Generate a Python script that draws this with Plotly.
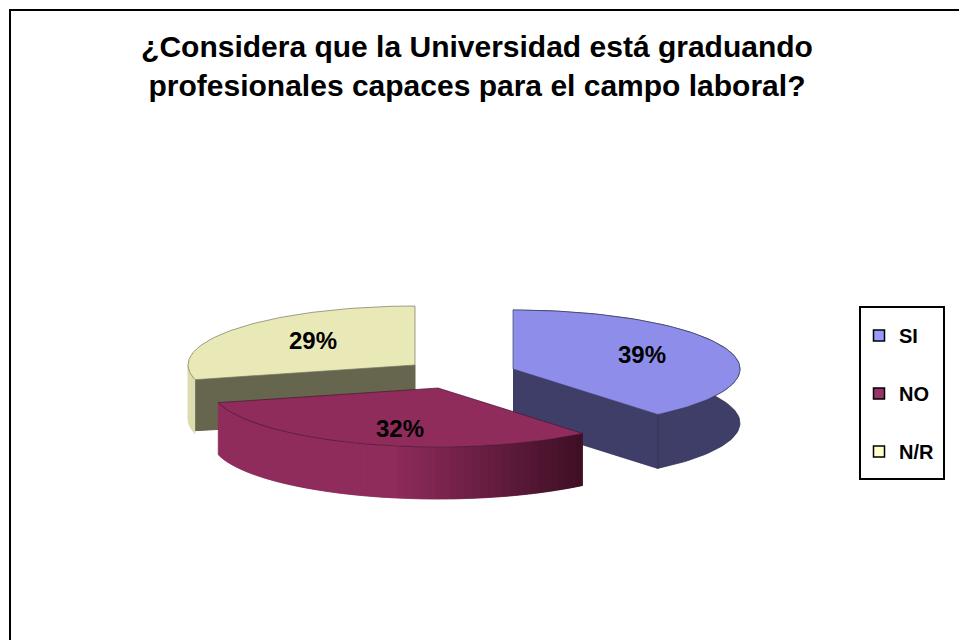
import numpy as np
import plotly.graph_objects as go

# Data
categories = ["SI", "NO", "N/R"]
shares = [39, 32, 29]
top_colors = ["#8e8eea", "#8f2c5c", "#e9e9b8"]
legend_colors = ["#9999ff", "#993366", "#ffffcc"]
wall_colors = ["#3e3e68", "#8f2c5c", "#66664e"]
title_text = "¿Considera que la Universidad está graduando<br>profesionales capaces para el campo laboral?"

# Picture geometry (pixels of the 959x640 canvas)
W, H = 959, 640
RX, RY, DEPTH = 227, 59, 54
NO_DEPTH = 52
apex = {"SI": (513, 369), "NO": (438, 388), "N/R": (415, 365)}
label_pos = {"SI": (642, 357), "NO": (400, 431), "N/R": (313, 343)}

cum = np.cumsum([0] + shares) / sum(shares) * 2 * np.pi
spans = {c: (cum[i], cum[i + 1]) for i, c in enumerate(categories)}


def arc(cat, a0=None, a1=None, n=80):
    s0, s1 = spans[cat]
    t = np.linspace(s0 if a0 is None else a0, s1 if a1 is None else a1, n)
    ax, ay = apex[cat]
    return ax + RX * np.sin(t), ay - RY * np.cos(t)


def poly(x, y, color, line=None, width=1.0):
    return go.Scatter(x=list(x), y=list(y), mode="lines", fill="toself", fillcolor=color,
                      line=dict(color=line or color, width=width),
                      hoverinfo="skip", showlegend=False)


def mix(c0, c1, f):
    a = np.array([int(c0[i:i + 2], 16) for i in (1, 3, 5)])
    b = np.array([int(c1[i:i + 2], 16) for i in (1, 3, 5)])
    r = (a + (b - a) * f).astype(int)
    return f"rgb({r[0]},{r[1]},{r[2]})"


fig = go.Figure()

# N/R: pale outer rim, inner wall, top
cat = "N/R"
ax, ay = apex[cat]
xr, yr = arc(cat, a0=spans[cat][0], a1=1.5 * np.pi, n=12)
fig.add_trace(poly(np.r_[xr, xr[::-1]], np.r_[yr, yr[::-1] + DEPTH], "#dcdcae"))
x0, y0 = arc(cat, n=2)
fig.add_trace(poly([x0[0], ax, ax, x0[0]], [y0[0] - 3, ay, ay + DEPTH, y0[0] + DEPTH - 3], wall_colors[2]))
x, y = arc(cat)
fig.add_trace(poly(np.r_[ax, x, ax], np.r_[ay, y, ay], top_colors[2], "#77775f", 0.7))

# SI: outer wall, inner wall, top
cat = "SI"
ax, ay = apex[cat]
x, y = arc(cat)
fig.add_trace(poly(np.r_[x, x[::-1]], np.r_[y, y[::-1] + DEPTH], wall_colors[0], "#2b2b4c", 0.7))
xe, ye = x[-1], y[-1]
fig.add_trace(poly([ax, xe, xe, ax], [ay, ye, ye + DEPTH, ay + DEPTH], wall_colors[0], "#2b2b4c", 0.7))
fig.add_trace(poly(np.r_[ax, x, ax], np.r_[ay, y, ay], top_colors[0], "#3e3e68", 0.7))

# NO: shaded outer wall in overlapping strips, then top
cat = "NO"
ax, ay = apex[cat]
x, y = arc(cat, n=61)
for i in range(60):
    frac = np.clip((x[i] - 390) / (x[0] - 390), 0, 1)
    color = mix("#8f2c5c", "#3d0f24", frac)
    j = max(i - 1, 0)
    fig.add_trace(poly([x[j], x[i], x[i + 1], x[i + 1], x[i], x[j]],
                       [y[j], y[i], y[i + 1], y[i + 1] + NO_DEPTH, y[i] + NO_DEPTH, y[j] + NO_DEPTH],
                       color, None, 0.5))
fig.add_trace(poly(np.r_[ax, x, ax], np.r_[ay, y, ay], top_colors[1], "#4a1530", 0.7))

# Percent labels
fig.add_trace(go.Scatter(
    x=[label_pos[c][0] for c in categories], y=[label_pos[c][1] for c in categories],
    text=[f"{v}%" for v in shares], mode="text", hoverinfo="skip", showlegend=False,
    textposition="middle center",
    textfont=dict(family="Liberation Sans", size=24, color="black", weight="bold")))

# Legend entries
for c, col in zip(categories, legend_colors):
    fig.add_trace(go.Scatter(x=[None], y=[None], mode="markers", name=c, legendgroup=c,
                             marker=dict(symbol="square", size=11, color=col,
                                         line=dict(color="black", width=1.5))))

shapes = [
    dict(type="rect", xref="x", yref="y", x0=860, x1=944, y0=307, y1=479,
         line=dict(color="black", width=2), fillcolor="white", layer="below"),
    dict(type="line", xref="x", yref="y", x0=9, x1=W, y0=10, y1=10, line=dict(color="black", width=2)),
    dict(type="line", xref="x", yref="y", x0=10, x1=10, y0=10, y1=H, line=dict(color="black", width=2)),
]

fig.update_layout(
    width=W, height=H, autosize=False,
    margin=dict(l=0, r=0, t=0, b=0),
    paper_bgcolor="white", plot_bgcolor="white",
    xaxis=dict(range=[0, W], visible=False, fixedrange=True),
    yaxis=dict(range=[H, 0], visible=False, fixedrange=True),
    shapes=shapes,
    title=dict(text=title_text, x=477 / W, y=1 - 57 / H, xanchor="center", yanchor="middle",
               font=dict(family="Liberation Sans", size=30, color="black", weight="bold")),
    legend=dict(x=859 / W, y=1 - 316 / H, xanchor="left", yanchor="top",
                bgcolor="rgba(0,0,0,0)", borderwidth=0, tracegroupgap=29,
                traceorder="grouped",
                font=dict(family="Liberation Sans", size=20, color="black", weight="bold")),
)
fig.write_html("out.html", config={"displayModeBar": False},
               post_script="document.body.style.margin='0';")
